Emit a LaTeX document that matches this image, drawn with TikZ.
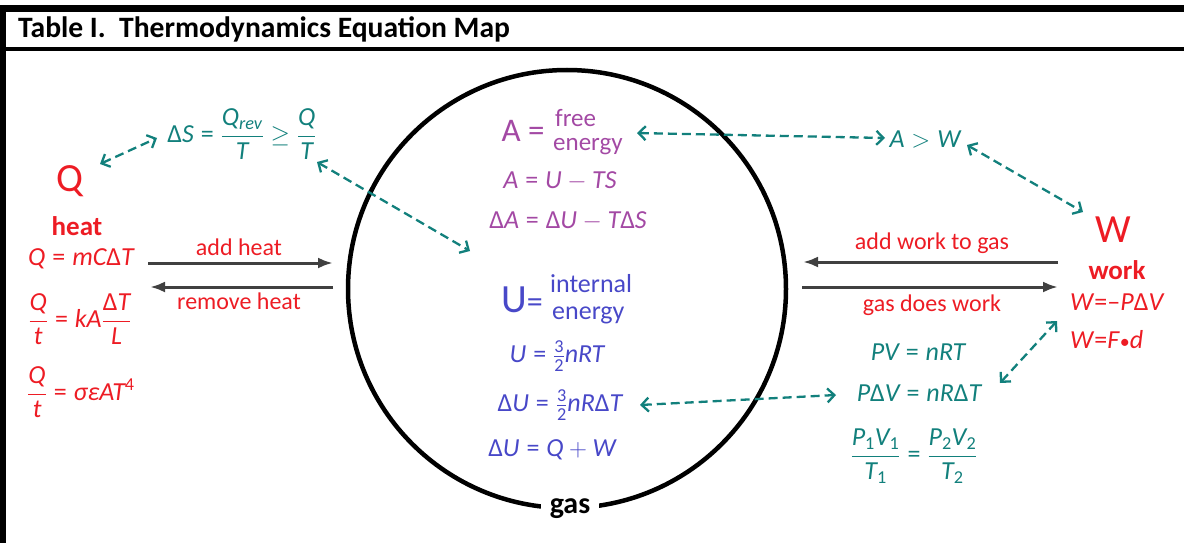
\documentclass[tikz,border=0pt]{standalone}
\usepackage{amsmath}
\usepackage{fontspec}
\setmainfont{Carlito}
\usetikzlibrary{arrows.meta}
\definecolor{myred}{RGB}{237,28,36}
\definecolor{myteal}{RGB}{18,128,124}
\definecolor{mypurple}{RGB}{163,73,164}
\definecolor{myblue}{RGB}{72,72,200}
\definecolor{mygray}{RGB}{64,64,64}
\newcommand{\mi}[1]{\textit{#1}}
\newcommand{\dl}{\textup{Δ}}
\newcommand{\eqs}{\mathrel{\textup{=}}}
\newcommand{\fs}[1]{\fontsize{#1}{#1}\selectfont}
\newcommand{\half}{\tfrac{\textup{3}}{\textup{2}}}
\begin{document}
\begin{tikzpicture}[x=1pt,y=-1pt,
  eqn/.style={inner sep=0pt,font=\fs{26}},
  lbl/.style={inner sep=0pt,font=\fs{24},text=myred},
  flow/.style={draw=mygray,line width=3pt,-{Latex[length=15pt,width=11pt]}},
  link/.style={draw=myteal,line width=2.3pt,dash pattern=on 9pt off 5pt,
     {Straight Barb[length=7pt,width=14pt]}-{Straight Barb[length=7pt,width=14pt]}},
]
\useasboundingbox (0,0) rectangle (1184,543);
% frame
\fill[black] (0,5) rectangle (1184,12);
\fill[black] (0,5) rectangle (6,543);
\fill[black] (6,47) rectangle (1184,51);
\node[anchor=base west,inner sep=0pt,font=\fs{29.6}\bfseries] (title) at (18,38) {Table I.\ \ Thermodynamics Equation Map};
% circle
\draw[line width=4.5pt] (567,289) circle[radius=219];
\node[fill=white,inner xsep=9pt,inner ysep=3pt,font=\fs{30}\bfseries] (gas) at (570,509) {gas};
% heat side
\node[inner sep=0pt,font=\fs{40},text=myred] (Qbig) at (70,181) {Q};
\node[inner sep=0pt,font=\fs{27}\bfseries,text=myred] (heat) at (77,226) {heat};
\node[eqn,text=myred] (qeq) at (81,259) {$\mi{Q}\eqs\mi{mC}\dl\mi{T}$};
\node[eqn,text=myred] (cond) at (80,319) {$\dfrac{\mi{Q}}{\mi{t}}\eqs\mi{kA}\dfrac{\dl\mi{T}}{\mi{L}}$};
\node[eqn,text=myred] (rad) at (81,392) {$\dfrac{\mi{Q}}{\mi{t}}\eqs\mi{σε}\mi{AT}^{\textup{4}}$};
\node[lbl] (addheat) at (239,247) {add heat};
\node[lbl] (remheat) at (239,301) {remove heat};
\coordinate (ah1) at (148,263); \coordinate (ah2) at (333,263);
\coordinate (rh1) at (333,287); \coordinate (rh2) at (150,287);
\draw[flow] (ah1) -- (ah2);
\draw[flow] (rh1) -- (rh2);
% entropy
\node[eqn,text=myteal] (ds) at (242,134) {$\dl\mi{S}\eqs\dfrac{\mi{Q}_{\mi{rev}}}{\mi{T}}\geq\dfrac{\mi{Q}}{\mi{T}}$};
% free energy
\node[inner sep=0pt,font=\fs{33},text=mypurple] (Ahead) at (523,131) {A =};
\node[anchor=base west,inner sep=0pt,font=\fs{25},text=mypurple] (free) at (555,126) {free};
\node[anchor=base west,inner sep=0pt,font=\fs{25},text=mypurple] (fenergy) at (553,150) {energy};
\node[eqn,text=mypurple] (aut) at (560,181) {$\mi{A}\eqs\mi{U}-\mi{TS}$};
\node[eqn,text=mypurple] (da) at (568,221) {$\dl\mi{A}\eqs\dl\mi{U}-\mi{T}\dl\mi{S}$};
% internal energy
\node[inner sep=0pt,text=myblue] (Uhead) at (522,300) {{\fs{40}U}{\fs{32}=}};
\node[anchor=base west,inner sep=0pt,font=\fs{26},text=myblue] (internal) at (550,292) {internal};
\node[anchor=base west,inner sep=0pt,font=\fs{26},text=myblue] (uenergy) at (552,319) {energy};
\node[eqn,text=myblue] (u32) at (557,356) {$\mi{U}\eqs\half\mi{nRT}$};
\node[eqn,text=myblue] (du32) at (560,405) {$\dl\mi{U}\eqs\half\mi{nR}\dl\mi{T}$};
\node[eqn,text=myblue] (duqw) at (552,450) {$\dl\mi{U}\eqs\mi{Q}+\mi{W}$};
% work side
\node[eqn,text=myteal] (aw) at (925,139) {$\mi{A}>\mi{W}$};
\node[inner sep=0pt,font=\fs{40},text=myred] (Wbig) at (1113,230) {W};
\node[inner sep=0pt,font=\fs{27}\bfseries,text=myred] (work) at (1117,270) {work};
\node[anchor=west,eqn,text=myred] (wpdv) at (1070,302) {\mi{W}=–\mi{P}\dl\mi{V}};
\node[anchor=west,eqn,text=myred] (wfd) at (1070,340) {\mi{W}=\mi{F}{\fs{20}•}\mi{d}};
\node[lbl] (addwork) at (932,243) {add work to gas};
\node[lbl] (gasdoes) at (932,305) {gas does work};
\coordinate (aw1) at (1058,262); \coordinate (aw2) at (803,262);
\coordinate (gw1) at (802,287); \coordinate (gw2) at (1058,287);
\draw[flow] (aw1) -- (aw2);
\draw[flow] (gw1) -- (gw2);
\node[eqn,text=myteal] (pv) at (918,352) {$\mi{PV}\eqs\mi{nRT}$};
\node[eqn,text=myteal] (pdv) at (919,393) {$\mi{P}\dl\mi{V}\eqs\mi{nR}\dl\mi{T}$};
\node[eqn,text=myteal] (comb) at (914,456) {$\dfrac{\mi{P}_{\textup{1}}\mi{V}_{\textup{1}}}{\mi{T}_{\textup{1}}}\eqs\dfrac{\mi{P}_{\textup{2}}\mi{V}_{\textup{2}}}{\mi{T}_{\textup{2}}}$};
% dashed links
\coordinate (l1a) at (100,164); \coordinate (l1b) at (157,138);
\coordinate (l2a) at (317,162); \coordinate (l2b) at (470,251);
\coordinate (l3a) at (637,133); \coordinate (l3b) at (885,138);
\coordinate (l4a) at (967,145); \coordinate (l4b) at (1083,212);
\coordinate (l5a) at (640,405); \coordinate (l5b) at (836,395);
\coordinate (l6a) at (1000,383); \coordinate (l6b) at (1057,321);
\draw[link] (l1a) -- (l1b);
\draw[link] (l2a) -- (l2b);
\draw[link] (l3a) -- (l3b);
\draw[link] (l4a) -- (l4b);
\draw[link] (l5a) -- (l5b);
\draw[link] (l6a) -- (l6b);
\end{tikzpicture}
\end{document}
